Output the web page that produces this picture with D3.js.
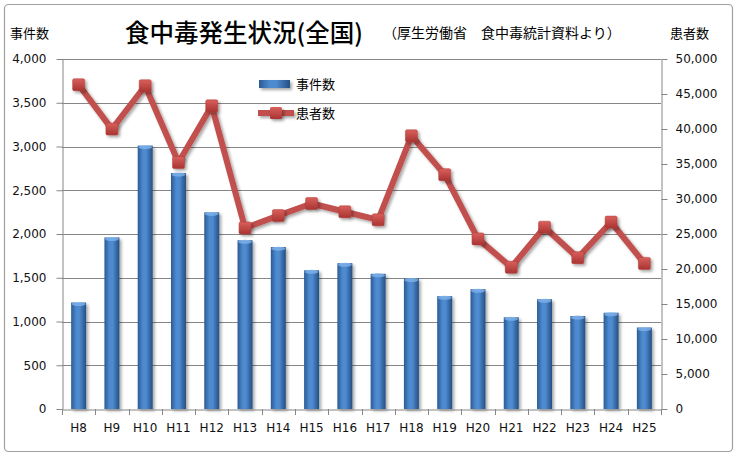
<!DOCTYPE html>
<html><head><meta charset="utf-8">
<script src="https://cdn.jsdelivr.net/npm/d3@7"></script>
<style>body{margin:0;background:#fff}svg{display:block}</style>
</head><body>
<svg id="c" width="737" height="457"></svg>
<script>
const categories = ["H8","H9","H10","H11","H12","H13","H14","H15","H16","H17","H18","H19","H20","H21","H22","H23","H24","H25"];
const incidents = [1217,1960,3010,2697,2247,1928,1850,1585,1666,1545,1491,1289,1369,1048,1254,1062,1100,931];
const patients = [46327,39989,46179,35214,43307,25862,27629,29355,28175,27019,39026,33477,24303,20249,25972,21616,26699,20802];
const leftTicks = [0,500,1000,1500,2000,2500,3000,3500,4000];
const rightTicks = [0,5000,10000,15000,20000,25000,30000,35000,40000,45000,50000];

const svg = d3.select("#c");
const numFont = "DejaVu Sans, sans-serif";
const jpFont = "'Noto Sans CJK JP', sans-serif";
const L = 62, R = 661, T = 59, B = 409;

const defs = svg.append("defs");
const bg = defs.append("linearGradient").attr("id","barG").attr("x1","0").attr("x2","1").attr("y1","0").attr("y2","0");
bg.append("stop").attr("offset","0").attr("stop-color","#2b5b93");
bg.append("stop").attr("offset","0.35").attr("stop-color","#4d8ad0");
bg.append("stop").attr("offset","0.55").attr("stop-color","#4f8bd1");
bg.append("stop").attr("offset","1").attr("stop-color","#244f82");
const mg = defs.append("linearGradient").attr("id","mkG").attr("x1","0").attr("x2","0").attr("y1","0").attr("y2","1");
mg.append("stop").attr("offset","0").attr("stop-color","#d9605c");
mg.append("stop").attr("offset","1").attr("stop-color","#a93431");
const sh = defs.append("filter").attr("id","sh").attr("filterUnits","userSpaceOnUse")
  .attr("x",0).attr("y",0).attr("width",737).attr("height",457);
sh.append("feDropShadow").attr("dx",2).attr("dy",2).attr("stdDeviation",1.5).attr("flood-color","#000").attr("flood-opacity",0.35);

// border
svg.append("rect").attr("x",4.5).attr("y",4.5).attr("width",728).attr("height",447).attr("rx",4)
  .attr("fill","#fff").attr("stroke","#a0a0a0").attr("stroke-width",1.2);

const x = d3.scaleBand().domain(categories).range([L,R]).paddingInner(0.55).paddingOuter(0.275);
const xb = d3.scaleBand().domain(categories).range([L,R]);
const yL = d3.scaleLinear().domain([0,4000]).range([B,T]);
const yR = d3.scaleLinear().domain([0,50000]).range([B,T]);

// gridlines
svg.append("g").selectAll("line").data(leftTicks.slice(1)).join("line")
  .attr("x1",L).attr("x2",R).attr("y1",d=>Math.round(yL(d))+0.5).attr("y2",d=>Math.round(yL(d))+0.5)
  .attr("stroke","#868686").attr("stroke-width",1);

// left axis
const gl = svg.append("g").attr("transform",`translate(${L+0.5},0)`)
  .call(d3.axisLeft(yL).tickValues(leftTicks).tickFormat(d3.format(",")).tickSize(6).tickSizeOuter(0).tickPadding(10));
gl.select(".domain").attr("stroke","#868686");
gl.selectAll(".tick line").attr("stroke","#868686");
gl.selectAll("text").attr("font-family",numFont).attr("font-size",12).attr("fill","#111");

// right axis
const gr = svg.append("g").attr("transform",`translate(${R+0.5},0)`)
  .call(d3.axisRight(yR).tickValues(rightTicks).tickFormat(d3.format(",")).tickSize(6).tickSizeOuter(0).tickPadding(8));
gr.select(".domain").attr("stroke","#868686");
gr.selectAll(".tick line").attr("stroke","#868686");
gr.selectAll("text").attr("font-family",numFont).attr("font-size",12).attr("fill","#111");

// bars
svg.append("g").attr("filter","url(#sh)").selectAll("rect").data(categories).join("rect")
  .attr("x",d=>x(d)).attr("width",x.bandwidth())
  .attr("y",(d,i)=>yL(incidents[i])).attr("height",(d,i)=>B-yL(incidents[i]))
  .attr("fill","url(#barG)");
svg.append("g").selectAll("ellipse").data(categories).join("ellipse")
  .attr("cx",d=>x(d)+x.bandwidth()/2).attr("cy",(d,i)=>yL(incidents[i])+1.5)
  .attr("rx",x.bandwidth()/2-0.5).attr("ry",2).attr("fill","#7fb2ea").attr("opacity",0.8);

// x axis
const gx = svg.append("g").attr("transform",`translate(0,${B+0.5})`)
  .call(d3.axisBottom(xb).tickSize(0).tickPadding(14));
gx.select(".domain").attr("stroke","#868686");
gx.selectAll("text").attr("font-family",numFont).attr("font-size",12).attr("fill","#111");
svg.append("g").selectAll("line").data(categories.concat(["__end"])).join("line")
  .attr("x1",(d,i)=>Math.round(L+i*xb.bandwidth())+0.5).attr("x2",(d,i)=>Math.round(L+i*xb.bandwidth())+0.5)
  .attr("y1",B).attr("y2",B+6).attr("stroke","#868686");

// line
const line = d3.line().x((d,i)=>xb(categories[i])+xb.bandwidth()/2).y(d=>yR(d));
svg.append("path").datum(patients).attr("d",line).attr("fill","none")
  .attr("stroke","#c0504d").attr("stroke-width",6).attr("stroke-linejoin","round").attr("filter","url(#sh)");
svg.append("g").attr("filter","url(#sh)").selectAll("rect").data(patients).join("rect")
  .attr("x",(d,i)=>xb(categories[i])+xb.bandwidth()/2-6).attr("y",d=>yR(d)-6)
  .attr("width",12).attr("height",12).attr("rx",1.5).attr("fill","url(#mkG)").attr("stroke","#b03c39").attr("stroke-width",0.5);

// titles
svg.append("text").attr("x",125).attr("y",42).attr("font-family",jpFont).attr("font-weight",500).attr("font-size",24.5)
  .attr("fill","#000").text("食中毒発生状況(全国)");
svg.append("text").attr("x",383).attr("y",38).attr("font-family",jpFont).attr("font-size",14)
  .attr("fill","#000").text("（厚生労働省　食中毒統計資料より）");
svg.append("text").attr("x",10).attr("y",38).attr("font-family",jpFont).attr("font-size",13).attr("fill","#000").text("事件数");
svg.append("text").attr("x",670).attr("y",38).attr("font-family",jpFont).attr("font-size",13).attr("fill","#000").text("患者数");

// legend
const lg = svg.append("g");
lg.append("rect").attr("x",259).attr("y",80).attr("width",31).attr("height",8).attr("fill","url(#barG)").attr("filter","url(#sh)");
lg.append("text").attr("x",296).attr("y",89).attr("font-family",jpFont).attr("font-size",13).attr("fill","#000").text("事件数");
lg.append("line").attr("x1",258).attr("x2",294).attr("y1",113).attr("y2",113).attr("stroke","#c0504d").attr("stroke-width",6).attr("filter","url(#sh)");
lg.append("rect").attr("x",270).attr("y",107).attr("width",12).attr("height",12).attr("rx",1.5).attr("fill","url(#mkG)").attr("filter","url(#sh)");
lg.append("text").attr("x",296).attr("y",118).attr("font-family",jpFont).attr("font-size",13).attr("fill","#000").text("患者数");
</script>
</body></html>
